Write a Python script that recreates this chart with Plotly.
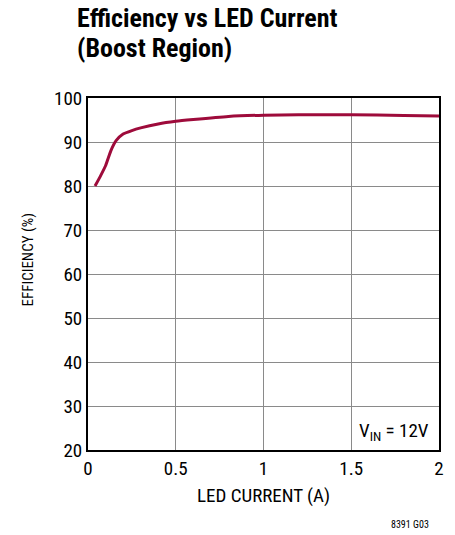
import plotly.graph_objects as go

# LED current (A) vs efficiency (%)
led_current = [0.04, 0.07, 0.10, 0.13, 0.16, 0.20, 0.25, 0.30, 0.40, 0.50,
               0.60, 0.80, 1.00, 1.20, 1.50, 1.80, 2.00]
efficiency = [80.0, 82.2, 84.6, 88.0, 90.3, 91.8, 92.6, 93.2, 94.1, 94.7,
              95.1, 95.8, 96.1, 96.2, 96.2, 96.05, 95.9]

x_ticks = [0, 0.5, 1, 1.5, 2]
x_tick_text = ["0", "0.5", "1", "1.5", "2"]
y_ticks = [20, 30, 40, 50, 60, 70, 80, 90, 100]

FONT = "Roboto Condensed, Liberation Sans Narrow, sans-serif"

# plot area in page pixels
L, R, T, B = 88, 439, 98, 450
W, H = 455, 535


def px(x, y):
    """page pixel -> paper coords"""
    return (x - L) / (R - L), (B - y) / (B - T)


fig = go.Figure()
fig.add_trace(go.Scatter(
    x=led_current, y=efficiency, mode="lines",
    line=dict(color="#9E0B3B", width=3, shape="spline", smoothing=0.5),
    showlegend=False,
))

axis_common = dict(
    showgrid=True, gridcolor="#8a8a8a", gridwidth=1,
    showline=True, linecolor="black", linewidth=2, mirror=True,
    zeroline=False, ticks="", tickfont=dict(size=19, color="black"),
)
fig.update_xaxes(range=[0, 2], tickvals=x_ticks, ticktext=x_tick_text, **axis_common)
fig.update_yaxes(range=[20, 100], tickvals=y_ticks, **axis_common)


def note(text, x, y, size, xanchor="center", bold=False, angle=0):
    ax, ay = px(x, y)
    fig.add_annotation(x=ax, y=ay, xref="paper", yref="paper", showarrow=False,
                       xanchor=xanchor, yanchor="middle", textangle=angle,
                       text=f"<b>{text}</b>" if bold else text,
                       font=dict(size=size, color="black", family=FONT))


note("Efficiency vs LED Current", 75, 18, 26, "left", bold=True)
note("(Boost Region)", 75, 48, 26, "left", bold=True)
note("LED CURRENT (A)", 263, 495, 19)
note("EFFICIENCY (%)", 27.5, 260, 15, angle=-90)
note("V<sub>IN</sub> = 12V", 431, 431, 19, "right")
note("8391 G03", 431, 524, 10, "right")

fig.update_layout(
    width=W, height=H,
    margin=dict(l=L, r=W - R, t=T, b=H - B),
    paper_bgcolor="white", plot_bgcolor="white",
    font=dict(family=FONT, color="black"),
)

fig.write_html("out.html", config={"displayModeBar": False},
               post_script="document.body.style.margin='0';document.body.style.overflow='hidden';")
